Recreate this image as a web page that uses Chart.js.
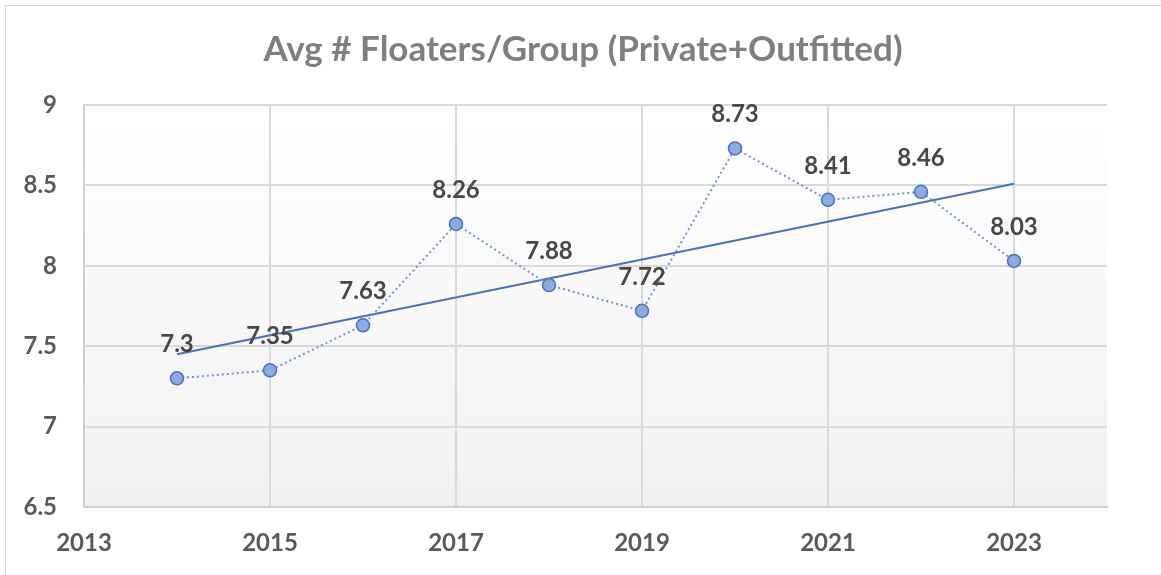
<!DOCTYPE html>
<html>
<head>
<meta charset="utf-8">
<script src="https://cdn.jsdelivr.net/npm/chart.js@4.4.0/dist/chart.umd.min.js"></script>
<style>
  html, body { margin: 0; padding: 0; background: #fff; }
  #wrap { position: relative; width: 1161px; height: 575px; }
  #frame { position: absolute; left: 5px; top: 5px; width: 1160px; height: 575px; border: 1px solid #d9d9d9; box-sizing: border-box; }
  canvas { position: absolute; left: 0; top: 0; }
</style>
</head>
<body>
<div id="wrap">
  <div id="frame"></div>
  <canvas id="chart" width="1161" height="575"></canvas>
</div>
<script>
const chartTitle = 'Avg # Floaters/Group (Private+Outfitted)'
const years = [2014, 2015, 2016, 2017, 2018, 2019, 2020, 2021, 2022, 2023]
const avgFloaters = [7.3, 7.35, 7.63, 8.26, 7.88, 7.72, 8.73, 8.41, 8.46, 8.03]
const trendYears = [2014, 2023]
const trendValues = [7.45, 8.51]
const xTicks = [2013, 2015, 2017, 2019, 2021, 2023]
const yTicks = [6.5, 7, 7.5, 8, 8.5, 9]

const FONT = 'Lato, "Open Sans", sans-serif'

// plot background gradient + title + data labels
const decor = {
  id: 'decor',
  beforeDraw (chart) {
    const { ctx, chartArea: a } = chart
    const g = ctx.createLinearGradient(0, a.top, 0, a.bottom)
    g.addColorStop(0, '#ffffff')
    g.addColorStop(1, '#f1f1f1')
    ctx.save()
    ctx.fillStyle = g
    ctx.fillRect(a.left, a.top, a.right - a.left, a.bottom - a.top)
    ctx.fillStyle = '#7f7f7f'
    ctx.font = 'bold 35px ' + FONT
    ctx.textAlign = 'center'
    ctx.textBaseline = 'alphabetic'
    ctx.fillText(chartTitle, 583, 61)
    ctx.restore()
  },
  afterDatasetsDraw (chart) {
    const { ctx } = chart
    const meta = chart.getDatasetMeta(0)
    ctx.save()
    ctx.fillStyle = '#474747'
    ctx.font = 'bold 24px ' + FONT
    ctx.textAlign = 'center'
    ctx.textBaseline = 'middle'
    meta.data.forEach((pt, i) => {
      ctx.fillText(String(avgFloaters[i]), pt.x, pt.y - 34)
    })
    ctx.restore()
  }
}

new Chart(document.getElementById('chart'), {
  type: 'scatter',
  data: {
    datasets: [
      {
        data: years.map((y, i) => ({ x: y, y: avgFloaters[i] })),
        showLine: true,
        borderColor: '#6f93d8',
        borderWidth: 2,
        borderDash: [2, 3],
        pointRadius: 6.5,
        pointBackgroundColor: '#8faadc',
        pointBorderColor: '#4472c4',
        pointBorderWidth: 1.5,
        order: 1
      },
      {
        data: trendYears.map((y, i) => ({ x: y, y: trendValues[i] })),
        showLine: true,
        borderColor: '#4472c4',
        borderWidth: 2,
        pointRadius: 0,
        order: 2
      }
    ]
  },
  options: {
    responsive: false,
    animation: false,
    layout: { padding: { top: 105, right: 54, left: 0, bottom: 0 } },
    plugins: {
      legend: { display: false },
      tooltip: { enabled: false }
    },
    scales: {
      x: {
        type: 'linear',
        min: 2013,
        max: 2024,
        afterBuildTicks (scale) { scale.ticks = xTicks.map(v => ({ value: v })) },
        afterFit (scale) { scale.height = 68 },
        grid: { color: '#d9d9d9', lineWidth: 2, drawTicks: false },
        border: { color: '#d0d0d0', width: 2 },
        ticks: {
          padding: 22,
          color: '#595959',
          font: { family: FONT, size: 24, weight: 'bold' },
          callback: v => String(v)
        }
      },
      y: {
        min: 6.5,
        max: 9,
        afterBuildTicks (scale) { scale.ticks = yTicks.map(v => ({ value: v })) },
        afterFit (scale) { scale.width = 84 },
        grid: { color: '#d9d9d9', lineWidth: 2, drawTicks: false },
        border: { color: '#d0d0d0', width: 2 },
        ticks: {
          padding: 27,
          color: '#595959',
          font: { family: FONT, size: 24, weight: 'bold' },
          callback: v => String(v)
        }
      }
    }
  },
  plugins: [decor]
})
</script>
</body>
</html>
